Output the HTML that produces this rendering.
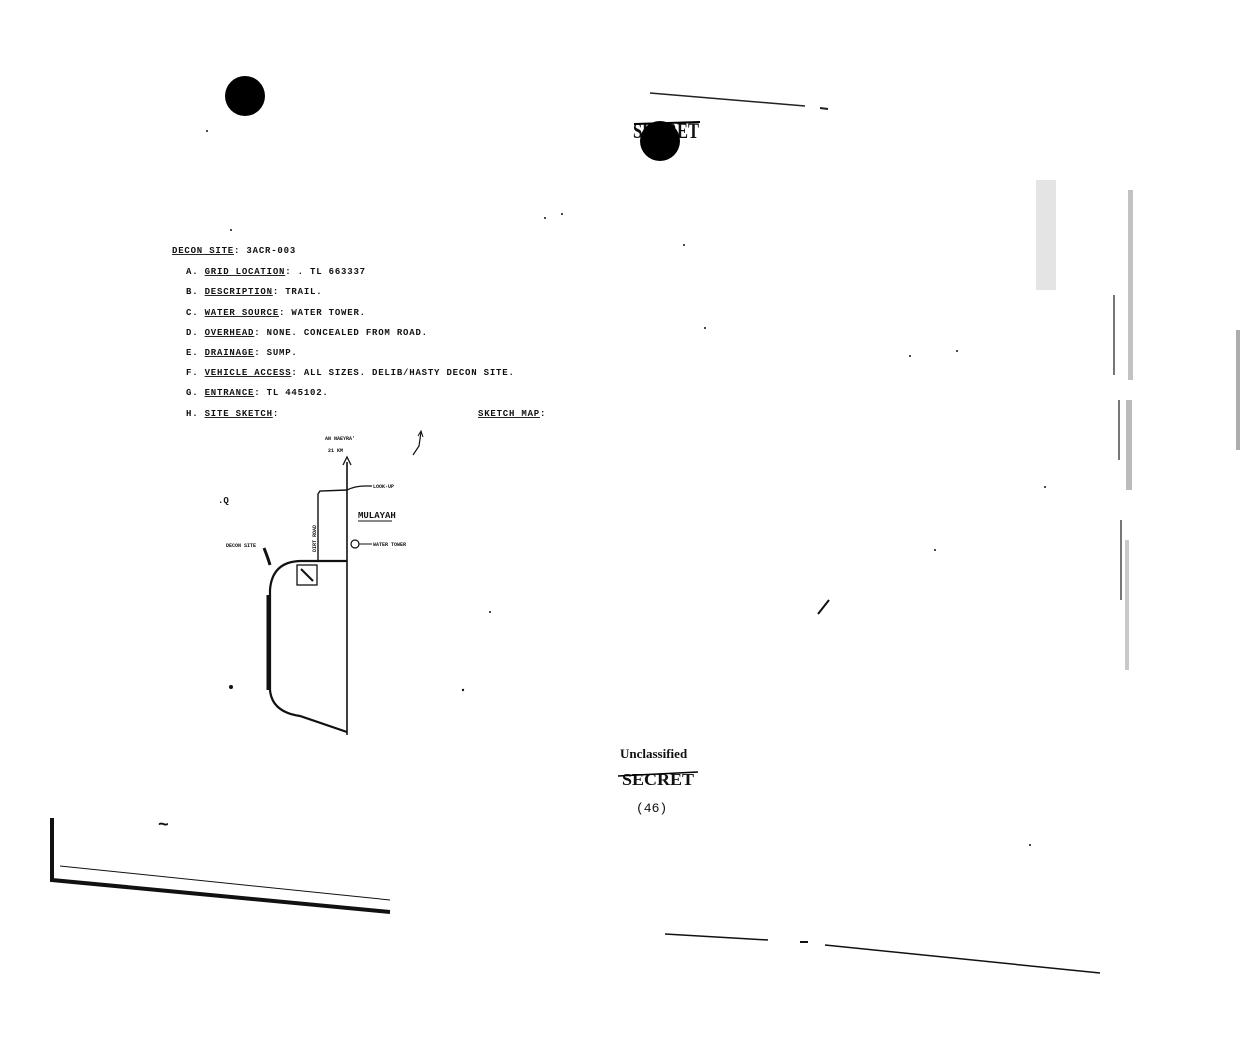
<!DOCTYPE html>
<html><head><style>
body{margin:0;background:#fff;width:1240px;height:1040px;overflow:hidden}
svg text{font-family:"Liberation Mono",monospace;font-weight:bold;fill:#111}
.t text{letter-spacing:0.8px}
</style></head><body>
<svg width="1240" height="1040" viewBox="0 0 1240 1040" xmlns="http://www.w3.org/2000/svg">
<circle cx="245" cy="96" r="20" fill="#000"/>
<line x1="650" y1="93" x2="805" y2="106" stroke="#222" stroke-width="1.5"/>
<line x1="820" y1="108" x2="828" y2="109" stroke="#222" stroke-width="2"/>
<text x="633" y="138" style="font-family:'Liberation Serif',serif;font-size:22px;font-weight:bold" textLength="66" lengthAdjust="spacingAndGlyphs">SECRET</text>
<line x1="634" y1="124" x2="700" y2="122" stroke="#000" stroke-width="2"/>
<circle cx="660" cy="141" r="20" fill="#000"/>
<g font-size="9" class="t">
<text x="172" y="253"><tspan text-decoration="underline">DECON SITE</tspan>:  3ACR-003</text>
<text x="186" y="274">A.  <tspan text-decoration="underline">GRID LOCATION</tspan>: . TL 663337</text>
<text x="186" y="294">B.  <tspan text-decoration="underline">DESCRIPTION</tspan>:  TRAIL.</text>
<text x="186" y="315">C.  <tspan text-decoration="underline">WATER SOURCE</tspan>:  WATER TOWER.</text>
<text x="186" y="335">D.  <tspan text-decoration="underline">OVERHEAD</tspan>:  NONE.  CONCEALED FROM ROAD.</text>
<text x="186" y="355">E.  <tspan text-decoration="underline">DRAINAGE</tspan>:  SUMP.</text>
<text x="186" y="375">F.  <tspan text-decoration="underline">VEHICLE ACCESS</tspan>:  ALL SIZES.  DELIB/HASTY DECON SITE.</text>
<text x="186" y="395">G.  <tspan text-decoration="underline">ENTRANCE</tspan>:  TL 445102.</text>
<text x="186" y="416">H.  <tspan text-decoration="underline">SITE SKETCH</tspan>:</text>
<text x="478" y="416"><tspan text-decoration="underline">SKETCH MAP</tspan>:</text>
</g>
<g fill="none" stroke="#111">
<line x1="347" y1="735" x2="347" y2="462" stroke-width="1.6"/>
<path d="M343,465 L347,457 L351,465" stroke-width="1.3"/>
<path d="M347,490 L320,491 L318,494 L318,560" stroke-width="1.4"/>
<path d="M347,490 Q355,486 365,486 L372,486" stroke-width="1.3"/>
<path d="M347,561 L300,561 Q272,562 270,590 L270,690 Q272,712 300,716 L347,732" stroke-width="2.2"/>
<path d="M268,595 L268,690" stroke-width="3"/>
<rect x="297" y="565" width="20" height="20" stroke-width="1.3"/>
<line x1="301" y1="569" x2="313" y2="581" stroke-width="2"/>
<circle cx="355" cy="544" r="4" stroke-width="1.2"/>
<line x1="359" y1="544" x2="372" y2="544" stroke-width="1"/>
<path d="M413,455 L419,446 L421,432" stroke-width="1.2"/>
<path d="M418,436 L421,431 L423,437" stroke-width="1"/>
<path d="M264,548 Q268,558 270,565" stroke-width="3"/>
<line x1="358" y1="521" x2="392" y2="521" stroke-width="1"/>
</g>
<g font-size="5">
<text x="325" y="440">AN NAEYRA'</text>
<text x="328" y="452">21 KM</text>
<text x="373" y="488">LOOK-UP</text>
<text x="373" y="546">WATER TOWER</text>
<text x="226" y="547">DECON SITE</text>
<text x="316" y="552" transform="rotate(-90 316 552)">DIRT ROAD</text>
</g>
<text x="358" y="518" style="font-size:9px">MULAYAH</text>
<text x="218" y="503" style="font-size:9px">.Q</text>
<g fill="#111">
<circle cx="231" cy="687" r="2"/><circle cx="207" cy="131" r="1"/><circle cx="231" cy="230" r="1"/>
<circle cx="545" cy="218" r="1"/><circle cx="562" cy="214" r="1"/><circle cx="684" cy="245" r="1"/>
<circle cx="705" cy="328" r="1"/><circle cx="910" cy="356" r="1"/><circle cx="957" cy="351" r="1"/>
<circle cx="463" cy="690" r="1.2"/><circle cx="490" cy="612" r="1"/><circle cx="1045" cy="487" r="1"/>
<circle cx="1030" cy="845" r="1"/><circle cx="935" cy="550" r="1"/>
</g>
<line x1="818" y1="614" x2="829" y2="600" stroke="#111" stroke-width="2"/>
<text x="158" y="830" style="font-size:18px">~</text>
<g fill="#777">
<rect x="1113" y="295" width="2" height="80"/><rect x="1118" y="400" width="2" height="60"/>
<rect x="1120" y="520" width="2" height="80"/><rect x="1128" y="190" width="5" height="190" opacity=".45"/>
<rect x="1126" y="400" width="6" height="90" opacity=".5"/><rect x="1125" y="540" width="4" height="130" opacity=".4"/>
<rect x="1036" y="180" width="20" height="110" opacity=".2"/><rect x="1236" y="330" width="4" height="120" opacity=".6"/>
</g>
<text x="620" y="758" style="font-family:'Liberation Serif',serif;font-size:13px;font-weight:bold">Unclassified</text>
<text x="622" y="785" style="font-family:'Liberation Serif',serif;font-size:17px;font-weight:bold" textLength="72" lengthAdjust="spacingAndGlyphs">SECRET</text>
<line x1="618" y1="776" x2="698" y2="772" stroke="#000" stroke-width="1.5"/>
<text x="636" y="812" style="font-size:13px;font-weight:normal">(46)</text>
<g stroke="#111" fill="none">
<path d="M52,818 L52,880 L390,912" stroke-width="4"/>
<line x1="60" y1="866" x2="390" y2="900" stroke-width="1"/>
<line x1="665" y1="934" x2="768" y2="940" stroke-width="1.5"/>
<line x1="800" y1="942" x2="808" y2="942" stroke-width="2"/>
<line x1="825" y1="945" x2="1100" y2="973" stroke-width="1.5"/>
</g>
</svg>
</body></html>
